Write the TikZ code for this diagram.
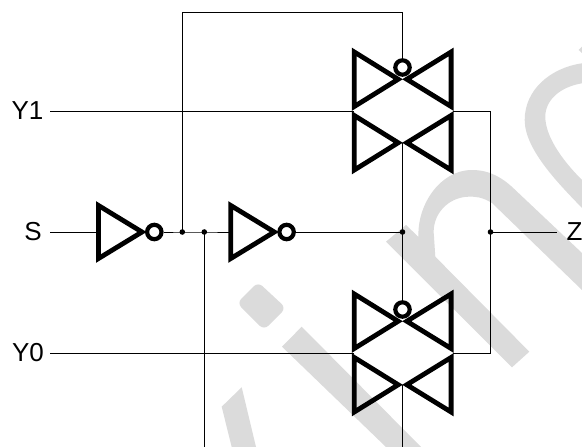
\documentclass[tikz,border=0pt]{standalone}
\usepackage{fontspec}
\setmainfont{Liberation Sans}
\tikzset{
  wire/.style={line width=1pt,black},
  body/.style={line width=4.8pt,black,miter limit=10,line join=miter},
  bubble/.style={circle,draw=black,fill=white,line width=4.2pt,minimum size=14.4pt,inner sep=0pt},
  dotnode/.style={circle,fill=black,minimum size=5.6pt,inner sep=0pt},
  lab/.style={inner sep=0pt,font=\fontsize{26}{30}\selectfont},
  wmark/.style={fill=black!14,draw=none},
  tgate/.pic={
    \draw[body] (-48.2,-59) -- (-48.2,-4.5) -- (-4.3,-31.75) -- cycle;
    \draw[body] (48.6,-59) -- (48.6,-4.5) -- (4.3,-31.75) -- cycle;
    \draw[body] (-48.2,59) -- (-48.2,4.5) -- (-4.3,31.75) -- cycle;
    \draw[body] (48.6,59) -- (48.6,4.5) -- (4.3,31.75) -- cycle;
    \node[bubble] (-bub) at (0,-43.5) {};
    \coordinate (-low) at (0,32);
    \coordinate (-a) at (-49,0);
    \coordinate (-b) at (50,0);
  },
  invgate/.pic={
    \draw[body] (0,-26.5) -- (0,26.5) -- (43.5,0) -- cycle;
    \node[bubble] (-bub) at (55.8,0) {};
    \coordinate (-a) at (0,0);
  }
}
\begin{document}
\begin{tikzpicture}[x=1pt,y=-1pt]
\useasboundingbox (0,0) rectangle (582,447);
\fill[white] (0,0) rectangle (582,447);
% background mark
\fill[wmark,rounded corners=6pt] (237,303) -- (258,282) -- (286,308) -- (264,330) -- cycle;
\fill[wmark] (282,346.7) -- (301.7,326.7) -- (421,447) -- (386,447) -- cycle;
\fill[wmark] (221.7,406.7) -- (241.7,387.3) -- (256,447) -- (231.7,447) -- cycle;
\fill[wmark] (386,241.7) -- (406,225) -- (418.5,237) .. controls (417,205) and (440,170) .. (472,170)
  .. controls (490,170) and (503,178) .. (515.3,190) -- (582,253) -- (582,290) -- (492,203)
  .. controls (482,197) and (476,196.5) .. (468.7,196.7)
  .. controls (448,197) and (431,215) .. (434,236.7) -- (435.3,256.7) -- (529.3,351.7) -- (512,367.3) -- cycle;
\fill[wmark] (582,63.3) .. controls (550,68) and (524.7,90) .. (524.7,120)
  .. controls (524.7,150) and (560,185) .. (582,208) -- (582,180)
  .. controls (560,158) and (545.3,135) .. (545.3,116.7)
  .. controls (545.3,100) and (560,87) .. (582,83.3) -- cycle;
\fill[wmark] (578.7,50) -- (582,46.7) -- (582,53) -- cycle;
% gates
\pic (g1) at (402.5,111) {tgate};
\pic (g0) at (402.5,353) {tgate};
\pic (i1) at (98.5,232) {invgate};
\pic (i2) at (230.8,232) {invgate};
% labels
\node[lab] (ly1) at (27.5,110.5) {Y1};
\node[lab] (ls) at (33,232) {S};
\node[lab] (ly0) at (28,352.5) {Y0};
\node[lab] (lz) at (574.5,232) {Z};
% free ends
\coordinate (y1s) at (50,111);
\coordinate (y0s) at (50,353);
\coordinate (ss) at (50,232);
\coordinate (zs) at (557,232);
\coordinate (c1) at (182.3,12.5);
\coordinate (c2) at (402.5,12.5);
\coordinate (b1) at (204.3,447);
\coordinate (b2) at (402.5,447);
\coordinate (r1) at (490.5,111);
\coordinate (r0) at (490.5,353);
% junctions
\node[dotnode] (j1) at (182.3,232) {};
\node[dotnode] (j2) at (204.3,232) {};
\node[dotnode] (j3) at (402.5,232) {};
\node[dotnode] (j4) at (490.5,232) {};
% wires
\draw[wire] (ss) -- (i1-a);
\draw[wire] (i1-bub) -- (j1.center) -- (j2.center) -- (i2-a);
\draw[wire] (i2-bub) -- (j3.center);
\draw[wire] (j1.center) -- (c1) -- (c2) -- (g1-bub);
\draw[wire] (y1s) -- (g1-a);
\draw[wire] (y0s) -- (g0-a);
\draw[wire] (g1-b) -- (r1) -- (r0) -- (g0-b);
\draw[wire] (j4.center) -- (zs);
\draw[wire] (g1-low) -- (g0-bub);
\draw[wire] (g0-low) -- (b2);
\draw[wire] (j2.center) -- (b1);
\end{tikzpicture}
\end{document}
